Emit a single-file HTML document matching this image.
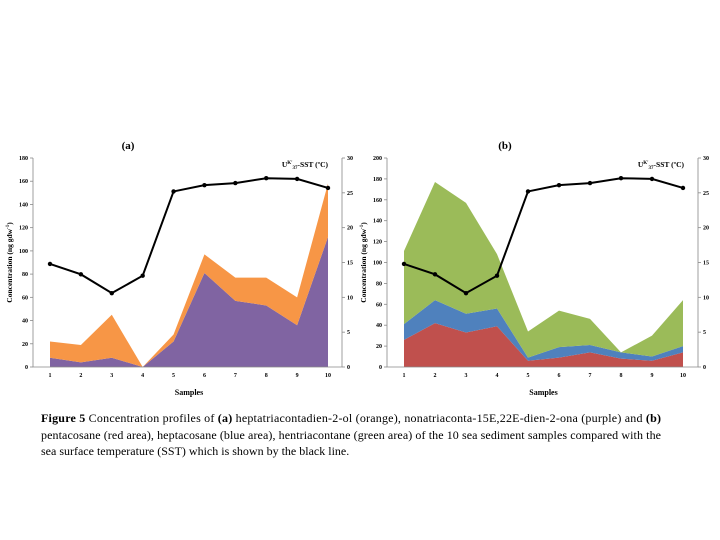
<!DOCTYPE html>
<html><head><meta charset="utf-8"><style>
body{margin:0;background:#fff}
svg{display:block}
text{font-family:"Liberation Serif",serif}
</style></head><body>
<svg id="fig" width="720" height="540" xmlns="http://www.w3.org/2000/svg">
<text x="128" y="149" font-size="11" font-weight="bold" text-anchor="middle">(a)</text>
<text x="505" y="149" font-size="11" font-weight="bold" text-anchor="middle">(b)</text>
<g id="ga"></g>
<g id="gb"></g>
<g font-size="12">
<text x="41" y="422" textLength="620" lengthAdjust="spacing"><tspan font-weight="bold">Figure 5</tspan> Concentration profiles of <tspan font-weight="bold">(a)</tspan> heptatriacontadien-2-ol (orange), nonatriaconta-15E,22E-dien-2-ona (purple) and <tspan font-weight="bold">(b)</tspan></text>
<text x="41" y="439" textLength="620" lengthAdjust="spacing">pentacosane (red area), heptacosane (blue area), hentriacontane (green area) of the 10 sea sediment samples compared with the</text>
<text x="41" y="455">sea surface temperature (SST) which is shown by the black line.</text>
</g>
</svg>
<script>
const samples=[1,2,3,4,5,6,7,8,9,10];
const purpleA=[8,4,8,0,22,81,57,53,36,112];
const orangeA=[14,15,37,0,6,16,20,24,24,46];
const sstA=[14.8,13.3,10.6,13.1,25.2,26.1,26.4,27.1,27,25.7];
const leftTicksA=[0,20,40,60,80,100,120,140,160,180];
const rightTicks=[0,5,10,15,20,25,30];
const redB=[26,42,33,39,6,9,14,8,6,14];
const blueB=[15,22,18,17,3,10,7,6,4,6];
const greenB=[70,113,106,52,25,35,25,0,20,44];
const sstB=[14.8,13.3,10.6,13.1,25.2,26.1,26.4,27.1,27,25.7];
const leftTicksB=[0,20,40,60,80,100,120,140,160,180,200];
const NS='http://www.w3.org/2000/svg';
function mk(p,t,a){const e=document.createElementNS(NS,t);for(const k in a)e.setAttribute(k,a[k]);p.appendChild(e);return e;}
function chart(g,o){
  const x=i=>o.x1+(o.x10-o.x1)*i/9;
  const yl=v=>o.y0-(o.y0-o.yTop)*v/o.lmax;
  const yr=v=>o.y0-(o.y0-o.yTop)*v/30;
  let base=samples.map(()=>0);
  o.series.forEach((s,si)=>{
    const top=base.map((b,i)=>b+s.vals[i]);
    let d='M'+samples.map((_,i)=>x(i)+','+yl(top[i])).join('L');
    for(let i=9;i>=0;i--)d+='L'+x(i)+','+yl(base[i]);
    const p=mk(g,'path',{d:d+'Z',fill:s.color});
    
    
    base=top;
  });
  const ax=mk(g,'path',{d:`M${o.ax},${o.yTop}V${o.y0}H${o.rx}V${o.yTop}`,stroke:'#888',fill:'none','stroke-width':0.8});
  
  
  o.lt.forEach(v=>{
    mk(g,'line',{x1:o.ax-3,x2:o.ax,y1:yl(v),y2:yl(v),stroke:'#888','stroke-width':0.8});
    const t=mk(g,'text',{x:o.ax-5,y:yl(v)+2,'font-size':6,'font-weight':'bold','text-anchor':'end'});t.textContent=v;
    
    
  });
  rightTicks.forEach(v=>{
    mk(g,'line',{x1:o.rx,x2:o.rx+3,y1:yr(v),y2:yr(v),stroke:'#888','stroke-width':0.8});
    const t=mk(g,'text',{x:o.rx+5,y:yr(v)+2,'font-size':6,'font-weight':'bold'});t.textContent=v;
    
    
  });
  samples.forEach((s,i)=>{
    const t=mk(g,'text',{x:x(i),y:o.y0+10,'font-size':6,'font-weight':'bold','text-anchor':'middle'});t.textContent=s;
    
    
  });
  const xt=mk(g,'text',{x:(o.x1+o.x10)/2,y:o.y0+28,'font-size':8,'font-weight':'bold','text-anchor':'middle'});xt.textContent='Samples';
  
  
  const yt=mk(g,'text',{transform:`translate(${o.ax-21},${(o.y0+o.yTop)/2}) rotate(-90)`,'font-size':7.5,'font-weight':'bold','text-anchor':'middle'});
  yt.innerHTML='Concentration (ng gdw<tspan dy="-3" font-size="5">-1</tspan><tspan dy="3">)</tspan>';
  
  
  const lg=mk(g,'text',{x:o.rx-14,y:o.yTop+9,'font-size':7.5,'font-weight':'bold','text-anchor':'end'});
  lg.innerHTML='U<tspan dy="-3" font-size="5">K\'</tspan><tspan dy="5" font-size="5">37</tspan><tspan dy="-2">-SST (ºC)</tspan>';
  
  
  const ln=mk(g,'polyline',{points:o.sst.map((v,i)=>x(i)+','+yr(v)).join(' '),fill:'none',stroke:'#000','stroke-width':2});
  
  
  o.sst.forEach((v,i)=>{const c=mk(g,'circle',{cx:x(i),cy:yr(v),r:2.2,fill:'#000'});
    
    });
}
chart(document.getElementById('ga'),{x1:50,x10:328,ax:33,rx:342,y0:367,yTop:158,lmax:180,lt:leftTicksA,sst:sstA,
  series:[{vals:purpleA,color:'#8064A2',name:'purple-area'},{vals:orangeA,color:'#F79646',name:'orange-area'}]});
chart(document.getElementById('gb'),{x1:404,x10:683,ax:387,rx:698,y0:367,yTop:158,lmax:200,lt:leftTicksB,sst:sstB,
  series:[{vals:redB,color:'#C0504D',name:'red-area'},{vals:blueB,color:'#4F81BD',name:'blue-area'},{vals:greenB,color:'#9BBB59',name:'green-area'}]});
</script>
</body></html>
